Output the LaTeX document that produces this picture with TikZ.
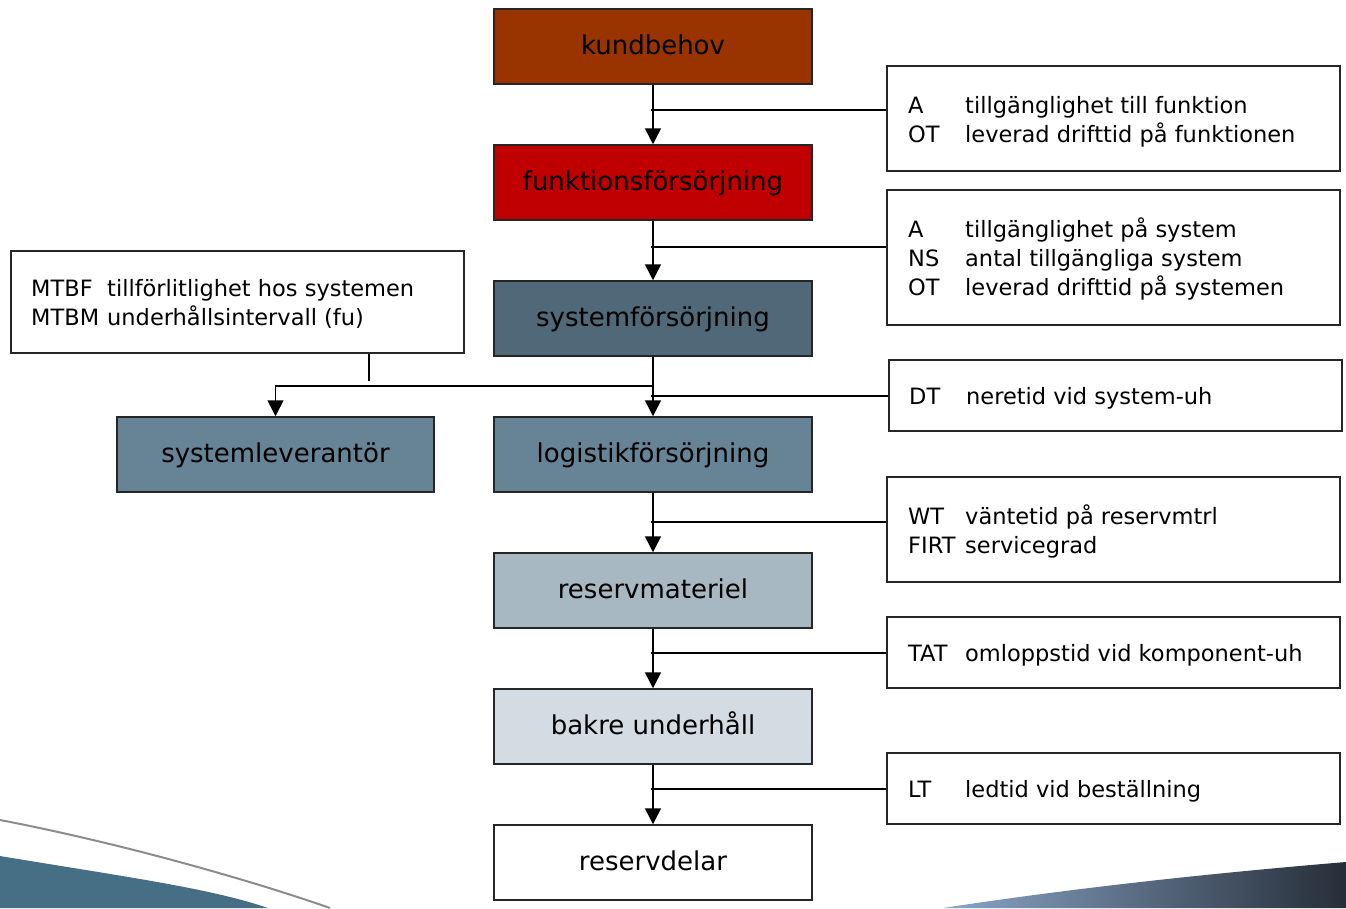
\documentclass[tikz,border=0pt]{standalone}
\usepackage{fontspec}
\setmainfont{DejaVu Sans}
\usetikzlibrary{arrows.meta}
\definecolor{cbrown}{HTML}{993300}
\definecolor{cred}{HTML}{C00000}
\definecolor{cdark}{HTML}{506877}
\definecolor{cmid}{HTML}{668495}
\definecolor{clight}{HTML}{A8B8C2}
\definecolor{cpale}{HTML}{D3DCE2}
\definecolor{cteal}{HTML}{466E84}
\definecolor{cswl}{HTML}{8AA6C8}
\definecolor{cswr}{HTML}{262E38}
\newcommand\kwr[1]{\makebox[57pt][l]{#1}}
\newcommand\kwl[1]{\makebox[76pt][l]{#1}}
\begin{document}
\begin{tikzpicture}[x=1pt,y=-1pt,
  mainbox/.style={draw=black!85, line width=1.5pt, minimum width=318pt, minimum height=75pt,
    inner sep=0pt, font=\fontsize{26}{30}\selectfont, text height=20pt, text depth=5pt},
  infobox/.style={draw=black!85, line width=1.5pt, inner sep=0pt, fill=white},
  txt/.style={anchor=base west, inner sep=0pt, font=\fontsize{22.5}{27}\selectfont},
  arr/.style={line width=1.5pt, -{Triangle[width=16pt,length=16pt]}},
  conn/.style={line width=1.5pt}]
\useasboundingbox (0,0) rectangle (1346,908);
% background decorations
\fill[cteal] (0,856) .. controls (120,876) and (210,888) .. (268,908) -- (0,908) -- cycle;
\draw[color=gray!90, line width=2pt] (0,820) .. controls (120,843) and (250,880) .. (330,908);
\shade[left color=cswl, right color=cswr] (943,908) .. controls (1100,884) and (1250,870) .. (1346,862) -- (1346,908) -- cycle;
% main column
\node[mainbox, fill=cbrown] (kb) at (653,46.5) {kundbehov};
\node[mainbox, fill=cred] (ff) at (653,182.5) {funktionsförsörjning};
\node[mainbox, fill=cdark] (sf) at (653,318.5) {systemförsörjning};
\node[mainbox, fill=cmid] (lf) at (653,454.5) {logistikförsörjning};
\node[mainbox, fill=cmid, minimum width=317pt] (sl) at (275.5,454.5) {systemleverantör};
\node[mainbox, fill=clight] (rm) at (653,590.5) {reservmateriel};
\node[mainbox, fill=cpale] (bu) at (653,726.5) {bakre underhåll};
\node[mainbox, fill=white] (rd) at (653,862.5) {reservdelar};
% info boxes
\node[infobox, minimum width=453pt, minimum height=105pt] (i1) at (1113.5,118.5) {};
\node[infobox, minimum width=453pt, minimum height=135pt] (i2) at (1113.5,257.5) {};
\node[infobox, minimum width=453pt, minimum height=71pt] (i3) at (1115.5,395.5) {};
\node[infobox, minimum width=453pt, minimum height=105pt] (i4) at (1113.5,529.5) {};
\node[infobox, minimum width=453pt, minimum height=71pt] (i5) at (1113.5,652.5) {};
\node[infobox, minimum width=453pt, minimum height=71pt] (i6) at (1113.5,788.5) {};
\node[infobox, minimum width=453pt, minimum height=102pt] (il) at (237.5,302) {};
% texts
\node[txt] (i1a) at (908,113) {\kwr{A}tillgänglighet till funktion};
\node[txt] (i1b) at (908,142) {\kwr{OT}leverad drifttid på funktionen};
\node[txt] (i2a) at (908,237.5) {\kwr{A}tillgänglighet på system};
\node[txt] (i2b) at (908,266.5) {\kwr{NS}antal tillgängliga system};
\node[txt] (i2c) at (908,295.5) {\kwr{OT}leverad drifttid på systemen};
\node[txt] (i3a) at (909,404.5) {\kwr{DT}neretid vid system-uh};
\node[txt] (i4a) at (908,524.5) {\kwr{WT}väntetid på reservmtrl};
\node[txt] (i4b) at (908,553.5) {\kwr{FIRT}servicegrad};
\node[txt] (i5a) at (908,661.5) {\kwr{TAT}omloppstid vid komponent-uh};
\node[txt] (i6a) at (908,797.5) {\kwr{LT}ledtid vid beställning};
\node[txt] (ila) at (31,296.5) {\kwl{MTBF}tillförlitlighet hos systemen};
\node[txt] (ilb) at (31,325.5) {\kwl{MTBM}underhållsintervall (fu)};
% main arrows
\draw[arr] (kb) -- (ff);
\draw[arr] (ff) -- (sf);
\draw[arr] (sf) -- (lf);
\draw[arr] (lf) -- (rm);
\draw[arr] (rm) -- (bu);
\draw[arr] (bu) -- (rd);
\coordinate (br) at (653,386);
\draw[arr] (br) -| (sl.north);
% side connectors
\coordinate (c1) at (650.5,110);
\coordinate (c2) at (650.5,247);
\coordinate (c3) at (650.5,396);
\coordinate (c4) at (650.5,522);
\coordinate (c5) at (650.5,653);
\coordinate (c6) at (650.5,789);
\draw[conn] (c1) -- (c1 -| i1.west);
\draw[conn] (c2) -- (c2 -| i2.west);
\draw[conn] (c3) -- (c3 -| i3.west);
\draw[conn] (c4) -- (c4 -| i4.west);
\draw[conn] (c5) -- (c5 -| i5.west);
\draw[conn] (c6) -- (c6 -| i6.west);
\coordinate (c7) at (369,381);
\draw[conn] (il.south -| c7) -- (c7);
\end{tikzpicture}
\end{document}
